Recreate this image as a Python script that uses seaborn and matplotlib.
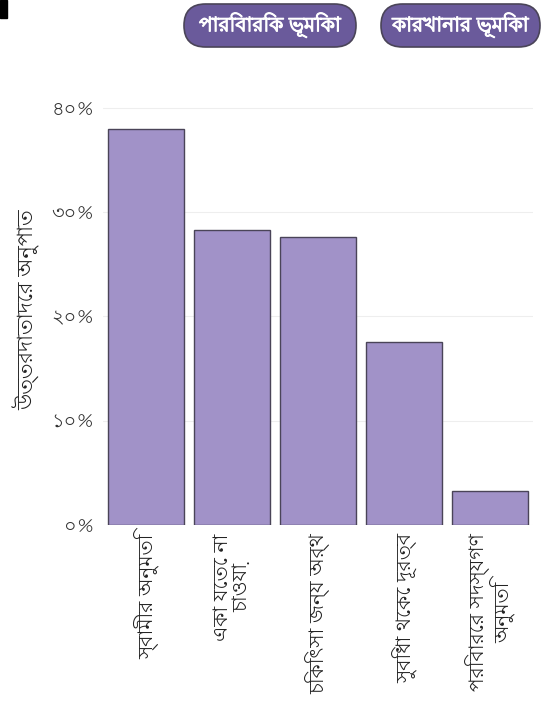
import matplotlib
matplotlib.use("Agg")
import os
import matplotlib.pyplot as plt
import matplotlib.patheffects as pe
import seaborn as sns
import pandas as pd
from matplotlib import font_manager
from matplotlib.patches import FancyBboxPatch, Rectangle

# Data
categories = ['স্বামীর অনুমতি', 'একা যেতে না\nচাওয়া', 'চিকিৎসা জন্য অর্থ',
              'সুবিধা থেকে দূরত্ব', 'পরিবারের সদস্যগণ\nঅনুমতি']
shares = [37.9, 28.3, 27.6, 17.5, 3.3]
ytick_vals = [0, 10, 20, 30, 40]
ytick_labels = ['০%', '১০%', '২০%', '৩০%', '৪০%']
ylabel = 'উত্তরদাতাদের অনুপাত'
buttons = ['পারিবারিক ভূমিকা', 'কারখানার ভূমিকা']

sns.set_theme(style="whitegrid")

# Bengali font (fall back to DejaVu for % etc.)
beng = 'Lohit Bengali'
for p in ['/usr/share/fonts/truetype/google-fonts/Lohit-Bengali.ttf',
          '/usr/share/fonts/truetype/google-fonts/NotoSansBengali[wdth,wght].ttf']:
    if os.path.exists(p):
        font_manager.fontManager.addfont(p)
        beng = font_manager.FontProperties(fname=p).get_name()
        break
plt.rcParams['font.family'] = [beng, 'DejaVu Sans']

df = pd.DataFrame({'cat': categories, 'share': shares})

fig = plt.figure(figsize=(5.45, 7.07), dpi=100)
ax = fig.add_axes([103 / 545, 182 / 707, 430 / 545, 430 / 707])

sns.barplot(data=df, x='cat', y='share', color='#a192c8', saturation=1,
            width=0.88, edgecolor='#4a4458', linewidth=1.0, ax=ax)

ax.set_ylim(0, 41.2)
ax.set_xlim(-0.5, 4.5)
ax.set_yticks(ytick_vals)
ax.set_yticklabels(ytick_labels, fontsize=14, color='#333333')
ax.set_xticks(range(len(categories)))
ax.set_xticklabels(categories, rotation=90, fontsize=14.5, color='#222222',
                   va='top', ha='center', linespacing=1.0)
ax.set_xlabel('')
ax.set_ylabel(ylabel, fontsize=15, color='#222222', labelpad=8)
ax.grid(axis='x', visible=False)
ax.grid(axis='y', color='#eeeeee', linewidth=0.8)
for s in ax.spines.values():
    s.set_visible(False)
ax.tick_params(axis='both', length=0, pad=6)

# pill buttons on top (drawn in pixel units)
for (x0, x1), label in zip([(184, 356), (381, 540)], buttons):
    y0, y1 = 707 - 47, 707 - 4
    r = (y1 - y0) / 2
    fig.patches.append(FancyBboxPatch((x0 + r, y0 + r), x1 - x0 - 2 * r, 0,
                       boxstyle=f"round,pad={r}", transform=None,
                       facecolor='#6a5a9b', edgecolor='#4a4458',
                       linewidth=1.2))
    fig.text((x0 + x1) / 2 / 545, 1 - 25 / 707, label, color='white',
             fontsize=14.5, ha='center', va='center',
             path_effects=[pe.withStroke(linewidth=0.8, foreground='white')])

# small dark mark in the top-left corner
fig.patches.append(Rectangle((0, 1 - 18 / 707), 7 / 545, 18 / 707,
                   transform=fig.transFigure, color='black'))

fig.savefig('out.png', dpi=100)
